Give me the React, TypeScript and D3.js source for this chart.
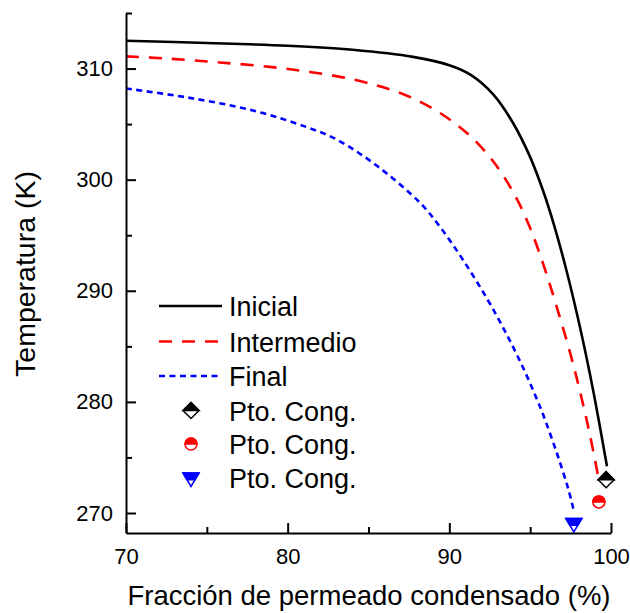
import React, { useEffect, useRef } from 'react'
import * as d3 from 'd3'

// curva inicial (negra)
const fraccionInicial = [70, 75, 80, 84, 87.75, 90, 91.3, 92.7, 93.95, 95, 95.8, 96.5, 97.25, 98.1, 98.9, 99.75]
const tempInicial = [312.5, 312.3, 312.05, 311.69, 311.05, 310.3, 309.45, 307.7, 305.08, 302.03, 299.0, 295.8, 291.8, 286.6, 281.0, 274.2]

// curva intermedia (roja)
const fraccionIntermedio = [70, 72.5, 75.8, 79.9, 84.1, 87.2, 89.2, 90.45, 91.5, 92.5, 93.3, 94.2, 95.0, 95.8, 96.6, 97.5, 98.1, 98.7, 99.3]
const tempIntermedio = [311.1, 310.9, 310.55, 309.98, 309.0, 307.67, 306.2, 304.95, 303.64, 302.04, 300.44, 298.2, 295.64, 292.44, 288.76, 284.26, 280.84, 277.0, 272.6]

// curva final (azul)
const fraccionFinal = [70, 73.75, 77.9, 81.2, 83.0, 85.5, 88.2, 89.5, 90.9, 92.3, 93.5, 94.6, 95.4, 95.8, 96.65, 97.35, 97.7]
const tempFinal = [308.2, 307.41, 306.21, 304.72, 303.64, 301.27, 297.9, 295.6, 292.66, 289.37, 286.2, 282.96, 280.3, 278.86, 275.4, 272.2, 270.2]

// puntos de congelación
const ptoCongFraccion = [99.7, 99.25, 97.7]
const ptoCongTemp = [273.0, 271.0, 269.1]

const seriesNames = ['Inicial', 'Intermedio', 'Final']
const ptoCongLabel = 'Pto. Cong.'
const xTicks = [70, 80, 90, 100]
const xMinorTicks = [75, 85, 95]
const yTicks = [270, 280, 290, 300, 310]
const yMinorTicks = [275, 285, 295, 305, 315]

const W = 630
const H = 613
const FONT = "'Liberation Sans', Arial, sans-serif"

export default function App() {
    const svgRef = useRef<SVGSVGElement | null>(null)

    useEffect(() => {
        document.body.style.margin = '0'
        const svg = d3.select(svgRef.current)
        svg.selectAll('*').remove()

        const x = d3.scaleLinear().domain([70, 100]).range([126, 611])
        const y = d3.scaleLinear().domain([268.2, 315]).range([533, 13])

        const colors = ['#000000', '#ff0000', '#0000ff']
        const dashes = [null, '13,10', '6,4.5']
        const series = [
            d3.zip(fraccionInicial, tempInicial),
            d3.zip(fraccionIntermedio, tempIntermedio),
            d3.zip(fraccionFinal, tempFinal),
        ]

        const line = d3
            .line<number[]>()
            .x((d) => x(d[0]))
            .y((d) => y(d[1]))
            .curve(d3.curveCatmullRom.alpha(0.5))

        series.forEach((s, i) => {
            svg.append('path')
                .attr('fill', 'none')
                .attr('stroke', colors[i])
                .attr('stroke-width', 2.6)
                .attr('stroke-dasharray', dashes[i])
                .attr('d', line(s))
        })

        // marcadores medio rellenos
        const marker = (g: d3.Selection<SVGGElement, unknown, null, undefined>, i: number) => {
            const c = colors[i]
            if (i === 0) {
                const r = 8
                g.append('path').attr('d', `M0,${-r}L${r},0L0,${r}L${-r},0Z`).attr('fill', 'white').attr('stroke', c).attr('stroke-width', 1.5)
                g.append('path').attr('d', `M0,${-r}L${r},0L${-r},0Z`).attr('fill', c).attr('stroke', c).attr('stroke-width', 1.5)
            } else if (i === 1) {
                const r = 6
                g.append('circle').attr('r', r).attr('fill', 'white').attr('stroke', c).attr('stroke-width', 1.5)
                g.append('path').attr('d', `M${-r},0A${r},${r} 0 0 1 ${r},0Z`).attr('fill', c).attr('stroke', c).attr('stroke-width', 1.5)
            } else {
                const w = 16
                const h = 13.5
                const top = -h / 3
                const mid = top + h / 2
                g.append('path').attr('d', `M${-w / 2},${top}L${w / 2},${top}L0,${top + h}Z`).attr('fill', 'white').attr('stroke', c).attr('stroke-width', 1.5)
                g.append('path').attr('d', `M${-w / 2},${top}L${w / 2},${top}L${w / 4},${mid}L${-w / 4},${mid}Z`).attr('fill', c).attr('stroke', c).attr('stroke-width', 1.5)
            }
        }

        ptoCongFraccion.forEach((fx, i) => {
            const g = svg.append('g').attr('transform', `translate(${x(fx)},${y(ptoCongTemp[i])})`)
            marker(g, i)
        })

        // ejes
        const yAxis = svg.append('g').attr('transform', 'translate(126,0)')
            .call(d3.axisLeft(y).tickValues(yTicks).tickSize(-10).tickSizeOuter(0).tickPadding(13).tickFormat(d3.format('d')))
        svg.append('g').attr('transform', 'translate(126,0)')
            .call(d3.axisLeft(y).tickValues(yMinorTicks).tickSize(-6).tickFormat(() => ''))
            .call((g) => g.select('.domain').remove())

        const xAxis = svg.append('g').attr('transform', 'translate(0,533)')
            .call(d3.axisBottom(x).tickValues(xTicks).tickSize(-10).tickSizeOuter(0).tickPadding(15).tickFormat(d3.format('d')))
        svg.append('g').attr('transform', 'translate(0,533)')
            .call(d3.axisBottom(x).tickValues(xMinorTicks).tickSize(-6).tickFormat(() => ''))
            .call((g) => g.select('.domain').remove())

        svg.selectAll('.domain, .tick line').attr('stroke', '#000').attr('stroke-width', 2)
        ;[yAxis, xAxis].forEach((a) => a.selectAll('text').attr('font-size', 22).attr('font-family', FONT).attr('fill', '#000'))

        // títulos
        svg.append('text')
            .attr('x', 369)
            .attr('y', 605)
            .attr('text-anchor', 'middle')
            .attr('font-size', 27.5)
            .attr('font-family', FONT)
            .text('Fracción de permeado condensado (%)')
        svg.append('text')
            .attr('transform', 'translate(35,274) rotate(-90)')
            .attr('text-anchor', 'middle')
            .attr('font-size', 28.5)
            .attr('font-family', FONT)
            .text('Temperatura (K)')

        // leyenda
        const rows = [306, 341.5, 376, 410.5, 444, 477.5]
        seriesNames.forEach((name, i) => {
            svg.append('line')
                .attr('x1', 159).attr('x2', 222)
                .attr('y1', rows[i]).attr('y2', rows[i])
                .attr('stroke', colors[i])
                .attr('stroke-width', 2.6)
                .attr('stroke-dasharray', dashes[i])
            svg.append('text').attr('x', 229).attr('y', rows[i] + 10).attr('font-size', 27).attr('font-family', FONT).text(name)
        })
        ptoCongFraccion.forEach((_, i) => {
            const g = svg.append('g').attr('transform', `translate(191,${rows[i + 3]})`)
            marker(g, i)
            svg.append('text').attr('x', 229).attr('y', rows[i + 3] + 10).attr('font-size', 27).attr('font-family', FONT).text(ptoCongLabel)
        })
    }, [])

    return <svg ref={svgRef} width={W} height={H} style={{ display: 'block', background: '#fff' }} />
}
